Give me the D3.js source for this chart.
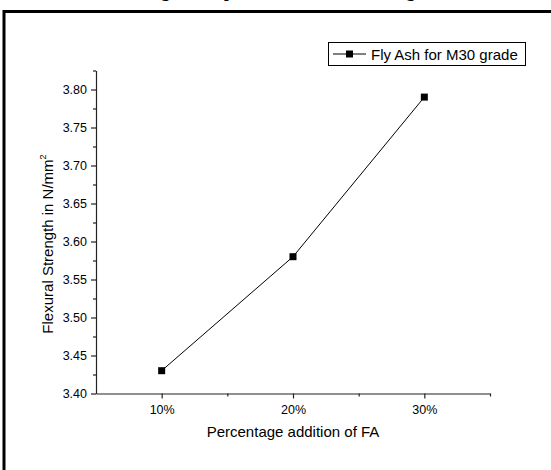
<!DOCTYPE html>
<meta charset="utf-8">
<style>
body { margin: 0; background: #fff; }
svg { display: block; }
text { font-family: "Liberation Sans", Arial, sans-serif; fill: #000; }
.title { font-family: "Liberation Serif", "Times New Roman", serif; font-weight: bold; font-size: 17px; }
</style>
<svg width="551" height="470"></svg>
<script src="https://d3js.org/d3.v7.min.js"></script>
<script>

// data
var categories = [10, 20, 30];          // % addition of FA
var strength = [3.43, 3.58, 3.79];      // N/mm2
var yTicks = [3.40, 3.45, 3.50, 3.55, 3.60, 3.65, 3.70, 3.75, 3.80];
var xTicks = [10, 20, 30];
var seriesName = "Fly Ash for M30 grade";

var svg = d3.select("svg");

// outer frame (runs off the right and bottom of the picture)
svg.append("rect")
    .attr("x", 4).attr("y", 11.5)
    .attr("width", 600).attr("height", 500)
    .attr("fill", "none").attr("stroke", "#000").attr("stroke-width", 3);

// title, cut off at the top: only descenders show
svg.append("text").attr("class", "title")
    .attr("x", 276).attr("y", -3.5)
    .attr("text-anchor", "middle")
    .text("Strength Comparison of Flexural Strength");

var xScale = d3.scaleLinear().domain([5, 35]).range([96, 490]);
var yScale = d3.scaleLinear().domain([3.40, 3.825]).range([393.5, 70.5]);

// y axis
var yMin = svg.append("g").attr("transform", "translate(96,0)")
    .call(d3.axisLeft(yScale).tickValues(d3.range(3.425, 3.83, 0.05)).tickSize(3).tickFormat(""));
yMin.select(".domain").remove();
var yMaj = svg.append("g").attr("transform", "translate(96,0)")
    .call(d3.axisLeft(yScale).tickValues(yTicks).tickSize(5).tickSizeOuter(0).tickPadding(4)
        .tickFormat(d3.format(".2f")));
yMaj.selectAll("text").style("font-size", "12.5px").attr("fill", "#222");

// x axis
var xMin = svg.append("g").attr("transform", "translate(0,393.5)")
    .call(d3.axisBottom(xScale).tickValues([15, 25, 35]).tickSize(3).tickFormat(""));
xMin.select(".domain").remove();
var xMaj = svg.append("g").attr("transform", "translate(0,393.5)")
    .call(d3.axisBottom(xScale).tickValues(xTicks).tickSize(5).tickSizeOuter(0).tickPadding(7)
        .tickFormat(d => d + "%"));
xMaj.selectAll("text").style("font-size", "12.5px").attr("fill", "#222");
svg.selectAll(".domain, .tick line").attr("stroke", "#222").attr("stroke-width", 1.2);

// axis titles
svg.append("text")
    .attr("x", 293).attr("y", 437)
    .attr("text-anchor", "middle")
    .style("font-size", "15px")
    .text("Percentage addition of FA");

var yt = svg.append("text")
    .attr("transform", "translate(53,244) rotate(-90)")
    .attr("text-anchor", "middle")
    .style("font-size", "15px");
yt.append("tspan").text("Flexural Strength in N/mm");
yt.append("tspan").attr("dy", -7).style("font-size", "9px").text("2");

// series
var pts = categories.map((c, i) => [c, strength[i]]);
svg.append("path")
    .datum(pts)
    .attr("fill", "none").attr("stroke", "#000").attr("stroke-width", 1)
    .attr("d", d3.line().x(d => xScale(d[0])).y(d => yScale(d[1])));
svg.selectAll("rect.pt").data(pts).enter().append("rect")
    .attr("class", "pt")
    .attr("x", d => xScale(d[0]) - 3.5).attr("y", d => yScale(d[1]) - 3.5)
    .attr("width", 7).attr("height", 7).attr("fill", "#000");

// legend
var lg = svg.append("g");
lg.append("rect").attr("x", 328.5).attr("y", 42.5).attr("width", 197).attr("height", 23)
    .attr("fill", "#fff").attr("stroke", "#000").attr("stroke-width", 1);
lg.append("line").attr("x1", 333).attr("x2", 366).attr("y1", 54).attr("y2", 54)
    .attr("stroke", "#000").attr("stroke-width", 1);
lg.append("rect").attr("x", 346).attr("y", 50.5).attr("width", 7).attr("height", 7).attr("fill", "#000");
lg.append("text").attr("x", 371).attr("y", 59.5).style("font-size", "15px").text(seriesName);

</script>
